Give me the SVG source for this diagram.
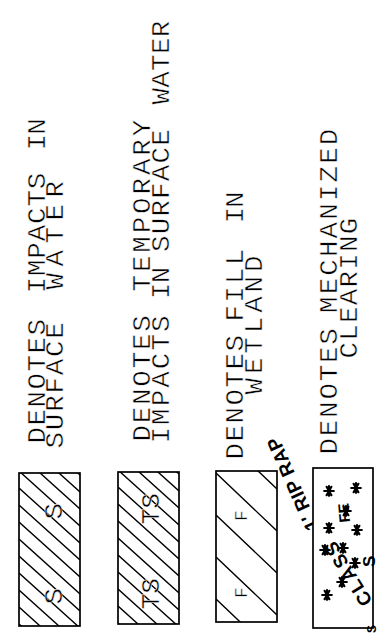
<svg xmlns="http://www.w3.org/2000/svg" width="381" height="638" viewBox="0 0 381 638">
<style>
.t{font-family:"Liberation Mono","DejaVu Sans Mono",monospace;font-size:25px;fill:#000;stroke:#fff;stroke-width:0.5px}
.b{font-family:"Liberation Sans","Arial",sans-serif;font-weight:bold;fill:#000}
.box{fill:#fff;stroke:#000;stroke-width:1.7}
.h{stroke:#000;stroke-width:1.4;fill:none}
.ast{stroke:#000;stroke-width:2.2;fill:none;stroke-linecap:round}
</style>
<defs>
<clipPath id="c1"><rect x="19" y="473" width="61" height="153"/></clipPath>
<clipPath id="c2"><rect x="118" y="472" width="61" height="152"/></clipPath>
<clipPath id="c3"><rect x="216" y="471" width="61" height="151"/></clipPath>
<path id="star" d="M-4.8,0H4.8M-2.4,-4.2L2.4,4.2M-2.4,4.2L2.4,-4.2M0,-4.8V4.8"/>
</defs>
<rect width="381" height="638" fill="#fff"/>

<g id="legend-s">
<rect class="box" x="19" y="473" width="61" height="153"/>
<path class="h" clip-path="url(#c1)" d="M19,403l61,55M19,420l61,55M19,437l61,55M19,454l61,55M19,471l61,55M19,488l61,55M19,505l61,55M19,522l61,55M19,539l61,55M19,556l61,55M19,573l61,55M19,590l61,55M19,607l61,55M19,624l61,55"/>
<text class="t" transform="translate(62,519.5) rotate(-90) scale(1.1,1)">S</text>
<text class="t" transform="translate(62,604.5) rotate(-90) scale(1.1,1)">S</text>
<text class="t" transform="translate(45,0) rotate(-90) scale(1.1,1)"><tspan x="-403.2" style="letter-spacing:1.36px">DENOTES </tspan><tspan x="-266.8" style="letter-spacing:0.8px">IMPACTS </tspan><tspan x="-136.8" style="letter-spacing:-0.8px">IN</tspan></text>
<text class="t" transform="translate(63,0) rotate(-90) scale(1.1,1)"><tspan x="-407.7" style="letter-spacing:1.64px">SURFACE </tspan><tspan x="-263.2" style="letter-spacing:5.9px">WATER</tspan></text>
</g>

<g id="legend-ts">
<rect class="box" x="118" y="472" width="61" height="152"/>
<path class="h" clip-path="url(#c2)" d="M118,402l61,55M118,419l61,55M118,436l61,55M118,453l61,55M118,470l61,55M118,487l61,55M118,504l61,55M118,521l61,55M118,538l61,55M118,555l61,55M118,572l61,55M118,589l61,55M118,606l61,55M118,623l61,55"/>
<text class="t" transform="translate(159,524.5) rotate(-90) scale(1.05,1)">TS</text>
<text class="t" transform="translate(159,609.5) rotate(-90) scale(1.05,1)">TS</text>
<text class="t" transform="translate(150,0) rotate(-90) scale(1.1,1)"><tspan x="-401.4" style="letter-spacing:1.64px">DENOTES </tspan><tspan x="-265" style="letter-spacing:2.64px">TEMPORARY</tspan></text>
<text class="t" transform="translate(169,0) rotate(-90) scale(1.1,1)"><tspan x="-403.2" style="letter-spacing:1.9px">IMPACTS </tspan><tspan x="-271.8" style="letter-spacing:-0.8px">IN </tspan><tspan x="-229.1" style="letter-spacing:1.1px">SURFACE </tspan><tspan x="-95" style="letter-spacing:0.27px">WATER</tspan></text>
</g>

<g id="legend-f">
<rect class="box" x="216" y="471" width="61" height="151"/>
<path class="h" clip-path="url(#c3)" d="M216,431l61,58M216,473l61,58M216,515l61,58M216,557l61,58M216,599l61,58"/>
<text class="t" style="font-size:18px" transform="translate(247,521) rotate(-90)">F</text>
<text class="t" style="font-size:18px" transform="translate(247,598) rotate(-90)">F</text>
<text class="t" transform="translate(243,0) rotate(-90) scale(1.1,1)"><tspan x="-417.7" style="letter-spacing:1.36px">DENOTES </tspan><tspan x="-292.3" style="letter-spacing:2.05px">FILL </tspan><tspan x="-203.2" style="letter-spacing:-0.8px">IN</tspan></text>
<text class="t" transform="translate(262,0) rotate(-90) scale(1.1,1)"><tspan x="-358.6" style="letter-spacing:3.55px">WETLAND</tspan></text>
<text class="b" style="font-size:19px" transform="translate(319,527) rotate(-114)" textLength="100" lengthAdjust="spacing">1' RIP RAP</text>
</g>

<g id="legend-mc">
<rect class="box" x="313" y="468" width="60" height="160"/>
<g class="ast">
<use href="#star" x="329" y="491"/><use href="#star" x="356" y="488"/>
<use href="#star" x="346" y="511"/><use href="#star" x="329" y="528"/>
<use href="#star" x="357" y="530"/><use href="#star" x="325" y="550"/>
<use href="#star" x="343" y="548"/><use href="#star" x="342" y="582"/>
<use href="#star" x="355" y="563"/><use href="#star" x="327" y="595"/>
</g>
<text class="b" style="font-size:15px" transform="translate(350,522) rotate(-95)">FE</text>
<text class="b" style="font-size:19px" transform="translate(373,601) rotate(-122)" textLength="72" lengthAdjust="spacing">CLASS</text>
<text class="b" style="font-size:17px" transform="translate(375,567) rotate(-90)">S</text>
<text class="b" style="font-size:12px" transform="translate(376,633) rotate(-90)">S</text>
<text class="t" transform="translate(337,0) rotate(-90) scale(1.1,1)"><tspan x="-413.2" style="letter-spacing:1.64px">DENOTES </tspan><tspan x="-284.5" style="letter-spacing:1.95px">MECHANIZED</tspan></text>
<text class="t" transform="translate(357,0) rotate(-90) scale(1.1,1)"><tspan x="-325.9" style="letter-spacing:1.14px">CLEARING</tspan></text>
</g>
</svg>
